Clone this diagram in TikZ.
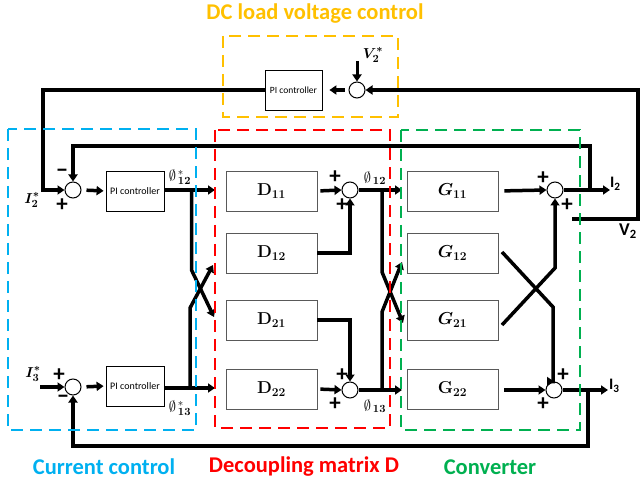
\documentclass[tikz,border=0pt]{standalone}
\usepackage{amsmath}
\usepackage{bm}
\usepackage[no-math]{fontspec}
\setmainfont{Carlito}
\usetikzlibrary{arrows.meta}
\definecolor{cyel}{HTML}{FFC000}
\definecolor{cblu}{HTML}{00B0F0}
\definecolor{cred}{HTML}{FF0000}
\definecolor{cgrn}{HTML}{00B050}
\begin{document}
\begin{tikzpicture}[x=1pt,y=-1pt,
  wire/.style={line width=3.5pt},
  arr/.style={wire,-{Triangle[length=7pt,width=9pt]}},
  sumc/.style={circle,draw,line width=1pt,minimum size=16pt,inner sep=0pt},
  blk/.style={draw=black!65,line width=0.8pt,minimum width=91pt,minimum height=40pt,inner sep=0pt,font=\fontsize{17}{19}\selectfont},
  pibox/.style={draw,line width=0.8pt,minimum width=58pt,minimum height=40pt,inner sep=0pt,font=\fontsize{10}{12}\selectfont},
  sgn/.style={font=\bfseries\fontsize{23}{23}\selectfont,inner sep=0pt},
  region/.style={line width=2pt,dash pattern=on 12pt off 7pt},
  ttl/.style={font=\bfseries\fontsize{22.5}{26}\selectfont,inner sep=0pt},
  lbl/.style={font=\fontsize{15}{17}\selectfont,inner sep=0pt},
  outl/.style={font=\bfseries\fontsize{16}{18}\selectfont,inner sep=0pt},
]
\useasboundingbox (0,0) rectangle (640,486);

% ---------- DC load voltage control ----------
\node[pibox,minimum width=57pt,font=\fontsize{9.5}{11}\selectfont] (pitop) at (293.5,90) {PI controller};
\node[sumc] (ctop) at (357,90) {};
\coordinate (v2in) at (357,61);
\node[lbl] (v2s) at (373,55) {$\bm{V_2^*}$};
\draw[arr,line width=3pt] (v2in) -- (ctop.north);
\draw[arr,shorten <=4pt,shorten >=7pt] (ctop.west) -- (pitop.east);

% ---------- current control ----------
\node[sumc] (c1) at (73,190) {};
\node[sumc] (c3) at (73,387) {};
\node[pibox] (pi1) at (135,191) {PI controller};
\node[pibox] (pi3) at (135,386) {PI controller};
\node[lbl] (i2s) at (32,200) {$\bm{I_2^*}$};
\node[lbl] (i3s) at (33,374) {$\bm{I_3^*}$};
\node[sgn] (s1a) at (62,173) {−};
\node[sgn] (s1b) at (62,205) {+};
\node[sgn] (s3a) at (59,375) {+};
\node[sgn] (s3b) at (63,399) {−};
\coordinate (bend1) at (43,190);
\coordinate (i3in) at (40,387);
\draw[arr] (pitop.west) -| (bend1) -- (c1.west);
\draw[arr] (i3in) -- (c3.west);
\draw[arr,shorten <=5pt,shorten >=2pt] (c1.east) -- (pi1.west);
\draw[arr,shorten <=5pt,shorten >=2pt] (c3.east) -- (pi3.west);
\node[lbl] (p12s) at (180,177) {$\emptyset^{\,*}_{\,\mathbf{12}}$};
\node[lbl] (p13s) at (180,408) {$\emptyset^{\,*}_{\,\mathbf{13}}$};

% ---------- decoupling matrix ----------
\node[blk] (D11) at (271.5,191) {$\mathbf{D_{11}}$};
\node[blk] (D12) at (271.5,253) {$\mathbf{D_{12}}$};
\node[blk] (D21) at (271.5,320) {$\mathbf{D_{21}}$};
\node[blk] (D22) at (271.5,389) {$\mathbf{D_{22}}$};
\node[sumc] (cd1) at (350,190) {};
\node[sumc] (cd2) at (350,390) {};
\draw[arr] (pi1.east |- 0,190) -- (215,190) coordinate (e11);
\draw[arr] (pi3.east |- 0,388) -- (215,388) coordinate (e22);
\coordinate (j1) at (191.5,190);
\coordinate (j2) at (190,388);
\draw[arr] (j1) -- (191.5,270) -- (214,317);
\draw[arr] (j2) -- (190,308) -- (213,265);
\draw[arr,shorten <=3pt] (D11.east) -- (cd1.west);
\draw[arr] (D12.east) -| (cd1.south);
\draw[arr] (D21.east) -| (cd2.north);
\draw[arr,shorten <=3pt] (D22.east |- 0,389) -- (cd2.west);
\node[sgn] (sd1a) at (335,177) {+};
\node[sgn] (sd1b) at (342,205) {+};
\node[sgn] (sd2a) at (342,375) {+};
\node[sgn] (sd2b) at (335,404) {+};
\node[lbl] (p12) at (375,178) {$\emptyset_{\,\mathbf{12}}$};
\node[lbl] (p13) at (375,406) {$\emptyset_{\,\mathbf{13}}$};

% ---------- converter ----------
\node[blk] (G11) at (452.5,191) {$\bm{G_{11}}$};
\node[blk] (G12) at (452.5,253) {$\bm{G_{12}}$};
\node[blk] (G21) at (452.5,320) {$\bm{G_{21}}$};
\node[blk] (G22) at (452.5,389) {$\mathbf{G_{22}}$};
\node[sumc] (cg1) at (555,190) {};
\node[sumc] (cg2) at (554,390) {};
\draw[arr] (cd1.east) -- (402,190) coordinate (eg11);
\draw[arr] (cd2.east) -- (402,390) coordinate (eg22);
\coordinate (j3) at (382,190);
\coordinate (j4) at (382,390);
\draw[arr] (j3) -- (382,272) -- (403,323);
\draw[arr] (j4) -- (382,312) -- (402,262);
\draw[arr,shorten <=6pt] (G11.east) -- (cg1.west);
\draw[arr,shorten <=6pt] (G22.east |- 0,390) -- (cg2.west);
\coordinate (g12o) at (502,252);
\coordinate (g21o) at (502,325);
\draw[arr] (g12o) -- (553,307) -- (cg2.north -| 553,0) -- (cg2.north);
\draw[arr] (g21o) -- (555,268) -- (cg1.south);
\node[sgn] (sg1a) at (543,178) {+};
\node[sgn] (sg1b) at (567,205) {+};
\node[sgn] (sg2a) at (563,375) {+};
\node[sgn] (sg2b) at (543,404) {+};

% outputs
\coordinate (o2) at (610,190);
\coordinate (o3) at (608,390);
\draw[arr] (cg1.east) -- (o2);
\draw[arr] (cg2.east) -- (o3);
\node[outl,anchor=west] (I2) at (610,184) {I\textsubscript{2}};
\node[outl,anchor=west] (I3) at (609,386) {I\textsubscript{3}};

% feedbacks
\coordinate (fb2) at (590,190);
\coordinate (fb3) at (588,390);
\draw[arr] (fb2) -- (590,146) -| (c1.north);
\draw[arr] (fb3) -- (588,446) -| (c3.south);
\coordinate (v2o) at (572,219);
\draw[arr] (v2o) -- (638,219) |- (ctop.east);
\node[outl,font=\bfseries\fontsize{18}{20}\selectfont] (V2) at (628,231) {V\textsubscript{2}};

% ---------- dashed regions ----------
\draw[region,cyel] (223,36) rectangle (398,117);
\draw[region,cblu] (8,129) rectangle (196,430);
\draw[region,cred] (215,130) rectangle (390,428);
\draw[region,cgrn] (401,130) rectangle (580,430);

% ---------- titles ----------
\node[ttl,text=cyel] (t1) at (315,14) {DC load voltage control};
\node[ttl,text=cblu] (t2) at (104,467) {Current control};
\node[ttl,text=cred] (t3) at (304,467) {Decoupling matrix D};
\node[ttl,text=cgrn] (t4) at (490,467) {Converter};
\end{tikzpicture}
\end{document}
